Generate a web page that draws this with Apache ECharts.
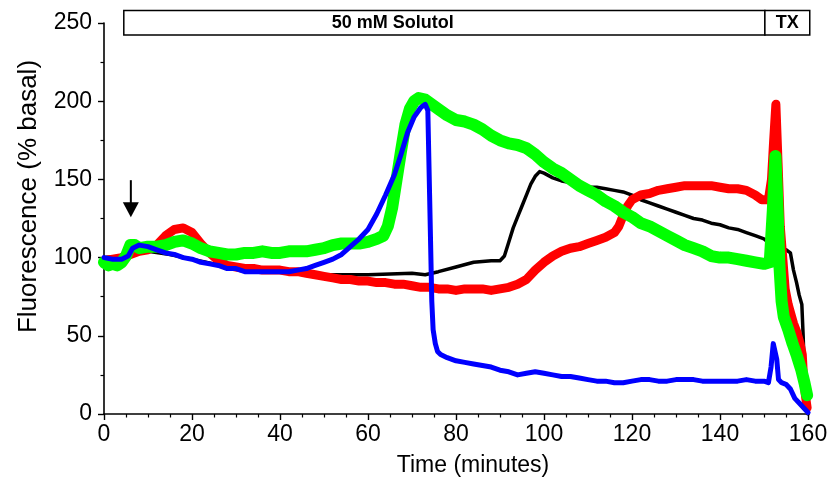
<!DOCTYPE html>
<html>
<head>
<meta charset="utf-8">
<script src="https://cdn.jsdelivr.net/npm/echarts@6/dist/echarts.min.js"></script>
<style>
html,body{margin:0;padding:0;background:#fff;}
#chart{width:833px;height:486px;}
</style>
</head>
<body>
<div id="chart"></div>
<script>
// ---- data (time in minutes, fluorescence in % basal) ----
const blackTrace = [[0,100],[5,101],[8,104],[10,104],[15,102],[20,99],[25,96],[30,93],[35,91],[40,91],[45,90],[50,89],[55,89],[60,89],[65,89.5],[70,90],[73,89],[76,91],[80,94],[84,97],[88,98],[90,98],[91,101],[92,110],[93,119],[94,126],[95,133],[96,140],[97,147],[98,152],[99,155],[100,154],[102,151],[104,149],[106,148],[108,146],[110,145],[112,145],[114,144],[116,143],[118,142],[120,140],[122,137],[124,135],[126,133],[128,131],[130,129],[132,127],[134,125],[136,124],[138,122],[140,121],[142,119],[144,118],[146,116],[148,114],[150,112],[151.3,109],[151.8,104],[152.2,145],[152.6,110],[153,104],[154,103],[155,105],[156,103],[156.7,92],[157.4,84],[158,76],[158.6,70],[158.9,50],[159.2,25],[159.6,5],[160,0]];
const redTrace = [[0,98],[2,99],[4,100],[6,102],[8,104],[10,105],[12,108],[14,114],[16,118],[18,119],[20,116],[22,109],[24,103],[26,98],[28,95],[30,94],[32,93],[34,93],[36,92],[38,92],[40,92],[42,91],[44,91],[46,90],[48,89],[50,88],[52,87],[54,86],[56,86],[58,85],[60,85],[62,84],[64,84],[66,83],[68,83],[70,82],[72,81],[74,81],[76,80],[78,80],[80,79],[82,80],[84,80],[86,80],[88,79],[90,80],[92,81],[94,83],[96,86],[98,92],[100,97],[102,101],[104,104],[106,106],[108,107],[110,109],[112,111],[114,113],[116,116],[117,120],[118,127],[119,133],[120,137],[122,140],[124,141],[126,143],[128,144],[130,145],[132,146],[134,146],[136,146],[138,146],[140,145],[142,144],[144,144],[146,143],[148,140],[149.5,137],[151,137],[151.7,150],[152.2,175],[152.7,198],[153.2,160],[153.7,120],[154.2,102],[154.8,80],[155.5,70],[156.7,58],[157.5,52],[158.2,45],[158.7,38],[159,22],[159.5,10],[159.8,4]];
const greenTrace = [[0,97],[1,95],[2,96],[3,95],[4,97],[5,101],[6,108],[7,108],[8,106],[10,107],[12,107],[14,108],[16,110],[18,111],[20,109],[22,106],[24,104],[26,103],[28,102],[30,102],[32,103],[34,103],[36,104],[38,103],[40,103],[42,104],[44,104],[46,104],[48,105],[50,106],[52,108],[54,109],[56,109],[58,109],[60,110],[62,112],[63.5,114],[64.5,120],[65.5,132],[66.5,150],[67.5,168],[68.5,185],[69.5,195],[70.5,200],[71.5,202],[73,201],[74.5,198],[76,195],[78,191],[80,188],[82,187],[84,185],[86,182],[88,178],[90,175],[92,173],[94,172],[96,170],[98,166],[100,161],[102,157],[104,154],[106,150],[108,146],[110,143],[112,140],[114,136],[116,133],[118,129],[120,126],[122,122],[124,120],[126,117],[128,114],[130,111],[132,108],[134,106],[136,104],[138,101],[140,100],[142,100],[144,99],[146,98],[148,97],[150,96],[151.3,97],[152,130],[152.6,165],[153.1,130],[153.5,95],[154,72],[154.5,62],[155.5,54],[156.5,45],[157.5,37],[158.5,28],[159.2,20],[159.8,12]];
const blueTrace = [[0,100],[2,99],[4,99],[5.5,101],[6.5,106],[8,108],[10,107],[12,105],[14,103],[16,102],[18,100],[20,99],[22,97],[24,96],[26,95],[28,93],[30,93],[32,91],[34,91],[36,91],[38,91],[40,91],[42,91],[44,92],[46,93],[48,95],[50,97],[52,99],[54,102],[56,107],[58,112],[60,118],[62,128],[64,140],[66,153],[67.5,166],[69,180],[70.5,190],[72,196],[73,198],[73.6,194],[74,140],[74.5,72],[74.8,54],[75.3,45],[75.8,40],[76.5,38],[78,36],[80,34],[82,33],[84,32],[86,31],[88,30],[90,28],[92,27],[94,25],[96,26],[98,27],[100,26],[102,25],[104,24],[106,24],[108,23],[110,22],[112,21],[114,21],[116,20],[118,20],[120,21],[122,22],[124,22],[126,21],[128,21],[130,22],[132,22],[134,22],[136,21],[138,21],[140,21],[142,21],[144,21],[146,22],[148,21],[150,21],[151,20],[151.6,30],[152.1,45],[152.5,46],[152.9,35],[153.3,22],[154,20],[155,19],[156,16],[157,10],[158,7],[159,4],[160,1]];

const xTicks = [0, 20, 40, 60, 80, 100, 120, 140, 160];
const yTicks = [0, 50, 100, 150, 200, 250];

// annotation (treatment periods, in minutes) and arrow (time of addition)
const solutolLabel = '50 mM Solutol';
const txLabel = 'TX';
const solutolStart = 4.5, solutolEnd = 150.2, txEnd = 160.4;
const solutolTextAt = 65.6;
const barTopValue = 258, barBottomValue = 242.3;
const arrowTime = 6.1, arrowTail = 149.5, arrowTip = 125.8;

const FONT = '"Liberation Sans", Arial, Helvetica, sans-serif';
const chart = echarts.init(document.getElementById('chart'), null, {renderer: 'canvas'});

function lineSeries(name, data, color, width) {
  return {
    name: name, type: 'line', data: data, showSymbol: false, symbol: 'none',
    animation: false, silent: true,
    lineStyle: {color: color, width: width, join: 'round', cap: 'round'},
    itemStyle: {color: color}
  };
}

chart.setOption({
  animation: false,
  backgroundColor: '#ffffff',
  grid: {left: 104, right: 25, top: 23, bottom: 72, containLabel: false},
  xAxis: {
    type: 'value', min: xTicks[0], max: xTicks[xTicks.length - 1], interval: 20,
    name: 'Time (minutes)', nameLocation: 'middle', nameGap: 40,
    nameTextStyle: {fontFamily: FONT, fontSize: 23, color: '#000', padding: [0, 0, 0, 34]},
    axisLine: {show: true, lineStyle: {color: '#000', width: 1.6}},
    axisTick: {show: true, inside: false, length: 6, lineStyle: {color: '#000', width: 1.4}},
    minorTick: {show: true, splitNumber: 4, length: 3.5, lineStyle: {color: '#000', width: 1.2}},
    axisLabel: {fontFamily: FONT, fontSize: 23, color: '#000', margin: 9},
    splitLine: {show: false}
  },
  yAxis: {
    type: 'value', min: yTicks[0], max: yTicks[yTicks.length - 1], interval: 50,
    name: 'Fluorescence (% basal)', nameLocation: 'middle', nameGap: 62,
    nameTextStyle: {fontFamily: FONT, fontSize: 26, color: '#000', padding: [0, 0, 0, 44]},
    axisLine: {show: true, lineStyle: {color: '#000', width: 1.6}},
    axisTick: {show: true, inside: false, length: 6, lineStyle: {color: '#000', width: 1.4}},
    minorTick: {show: true, splitNumber: 2, length: 3.5, lineStyle: {color: '#000', width: 1.2}},
    axisLabel: {fontFamily: FONT, fontSize: 23, color: '#000', margin: 12},
    splitLine: {show: false}
  },
  series: [
    lineSeries('black', blackTrace, '#000000', 3.5),
    lineSeries('red', redTrace, '#ff0000', 9),
    lineSeries('green', greenTrace, '#00ff00', 12),
    lineSeries('blue', blueTrace, '#0000ff', 5)
  ]
});

function px(t, v) { return chart.convertToPixel({gridIndex: 0}, [t, v]); }
const pA = px(solutolStart, barTopValue);
const pB = px(solutolEnd, barBottomValue);
const pC = px(txEnd, barBottomValue);
const pText = px(solutolTextAt, (barTopValue + barBottomValue) / 2);
const pTx = px((solutolEnd + txEnd) / 2, (barTopValue + barBottomValue) / 2);
const aTail = px(arrowTime, arrowTail);
const aTip = px(arrowTime, arrowTip);
const headH = 15, headW = 8;

chart.setOption({
  graphic: [
    {type: 'rect', silent: true, shape: {x: pA[0], y: pA[1], width: pB[0] - pA[0], height: pB[1] - pA[1]},
     style: {fill: '#fff', stroke: '#000', lineWidth: 1.5}, z: 10},
    {type: 'rect', silent: true, shape: {x: pB[0], y: pA[1], width: pC[0] - pB[0], height: pB[1] - pA[1]},
     style: {fill: '#fff', stroke: '#000', lineWidth: 1.5}, z: 10},
    {type: 'text', silent: true, x: pText[0], y: pText[1], z: 11,
     style: {text: solutolLabel, fontFamily: FONT, fontWeight: 'bold', fontSize: 18, fill: '#000', align: 'center', verticalAlign: 'middle'}},
    {type: 'text', silent: true, x: pTx[0], y: pTx[1], z: 11,
     style: {text: txLabel, fontFamily: FONT, fontWeight: 'bold', fontSize: 18, fill: '#000', align: 'center', verticalAlign: 'middle'}},
    {type: 'line', silent: true, z: 12, shape: {x1: aTail[0], y1: aTail[1], x2: aTip[0], y2: aTip[1] - headH + 2},
     style: {stroke: '#000', lineWidth: 2}},
    {type: 'polygon', silent: true, z: 12,
     shape: {points: [[aTip[0] - headW, aTip[1] - headH], [aTip[0] + headW, aTip[1] - headH], [aTip[0], aTip[1]]]},
     style: {fill: '#000'}}
  ]
});
</script>
</body>
</html>
